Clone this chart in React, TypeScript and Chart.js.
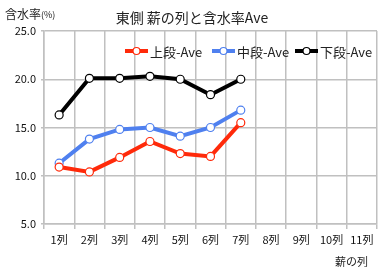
import React, { useEffect, useRef } from "react";
import { Chart, registerables } from "chart.js";

Chart.register(...registerables);

const categories = ["1列", "2列", "3列", "4列", "5列", "6列", "7列", "8列", "9列", "10列", "11列"];
const upperAve = [10.9, 10.4, 11.9, 13.55, 12.3, 12.0, 15.5, null, null, null, null];
const middleAve = [11.3, 13.8, 14.8, 15.0, 14.1, 15.0, 16.8, null, null, null, null];
const lowerAve = [16.3, 20.1, 20.1, 20.3, 20.0, 18.4, 20.0, null, null, null, null];
const seriesNames = ["上段-Ave", "中段-Ave", "下段-Ave"];
const seriesColors = ["#ff2a0a", "#4f80ef", "#000000"];
const titleText = "東側 薪の列と含水率Ave";
const yTitle = "含水率";
const yTitleUnit = "(%)";
const xTitle = "薪の列";

const FONT = '"Noto Sans CJK JP", "Noto Sans", sans-serif';

const overlayPlugin = {
  id: "overlay",
  afterDraw(chart: any) {
    const ctx = chart.ctx;
    ctx.save();
    ctx.fillStyle = "#222";
    ctx.textBaseline = "middle";
    ctx.font = `14px ${FONT}`;
    ctx.textAlign = "center";
    ctx.fillText(titleText, 192, 18);
    ctx.textAlign = "left";
    ctx.font = `12px ${FONT}`;
    ctx.fillText(yTitle, 5, 14);
    const w = ctx.measureText(yTitle).width;
    ctx.font = `9px ${FONT}`;
    ctx.fillText(yTitleUnit, 5 + w, 15);
    ctx.font = `11px ${FONT}`;
    ctx.textAlign = "left";
    ctx.fillText(xTitle, 335, 262);
    const starts = [125, 212, 295];
    ctx.font = `13px ${FONT}`;
    seriesNames.forEach((name, i) => {
      const x = starts[i];
      const y = 51;
      ctx.strokeStyle = seriesColors[i];
      ctx.lineWidth = 4;
      ctx.beginPath();
      ctx.moveTo(x, y);
      ctx.lineTo(x + 23, y);
      ctx.stroke();
      ctx.beginPath();
      ctx.arc(x + 11.5, y, 3.5, 0, Math.PI * 2);
      ctx.fillStyle = "#fff";
      ctx.fill();
      ctx.lineWidth = 1.2;
      ctx.stroke();
      ctx.fillStyle = "#222";
      ctx.textAlign = "left";
      ctx.fillText(name, x + 25, y + 1);
    });
    ctx.restore();
  },
};

export default function App() {
  const ref = useRef<HTMLCanvasElement | null>(null);
  useEffect(() => {
    if (!ref.current) return;
    const mk = (label: string, data: any[], color: string) => ({
      label,
      data,
      borderColor: color,
      backgroundColor: color,
      borderWidth: 4,
      pointRadius: 4,
      pointBackgroundColor: "#fff",
      pointBorderColor: color,
      pointBorderWidth: 1.2,
      tension: 0,
      spanGaps: false,
    });
    const chart = new Chart(ref.current, {
      type: "line",
      data: {
        labels: categories,
        datasets: [
          mk(seriesNames[0], upperAve, seriesColors[0]),
          mk(seriesNames[1], middleAve, seriesColors[1]),
          mk(seriesNames[2], lowerAve, seriesColors[2]),
        ],
      },
      options: {
        animation: false,
        responsive: false,
        devicePixelRatio: 1,
        layout: { padding: { top: 31, right: 6, bottom: 0, left: 0 } },
        plugins: { legend: { display: false }, title: { display: false }, tooltip: { enabled: false } },
        scales: {
          x: {
            offset: true,
            grid: { offset: true, color: "#c0c0c0", lineWidth: 1.5, tickLength: 5 },
            border: { color: "#c0c0c0", width: 1.5 },
            ticks: { font: { family: FONT, size: 11 }, color: "#111", padding: 4, maxRotation: 0, autoSkip: false },
            afterFit: (s: any) => { s.height = 48; },
          },
          y: {
            min: 5,
            max: 25,
            ticks: {
              stepSize: 5,
              font: { family: FONT, size: 11 },
              color: "#111",
              padding: 5,
              callback: (v: any) => Number(v).toFixed(1),
            },
            grid: { color: "#c0c0c0", lineWidth: 1.5, tickLength: 3 },
            border: { color: "#c0c0c0", width: 1.5 },
            afterFit: (s: any) => { s.width = 44; },
          },
        },
      },
      plugins: [overlayPlugin],
    });
    return () => chart.destroy();
  }, []);
  return (
    <div style={{ position: "fixed", left: 0, top: 0, width: 383, height: 272, background: "#fff" }}>
      <canvas ref={ref} width={383} height={272} style={{ width: 383, height: 272 }} />
    </div>
  );
}
